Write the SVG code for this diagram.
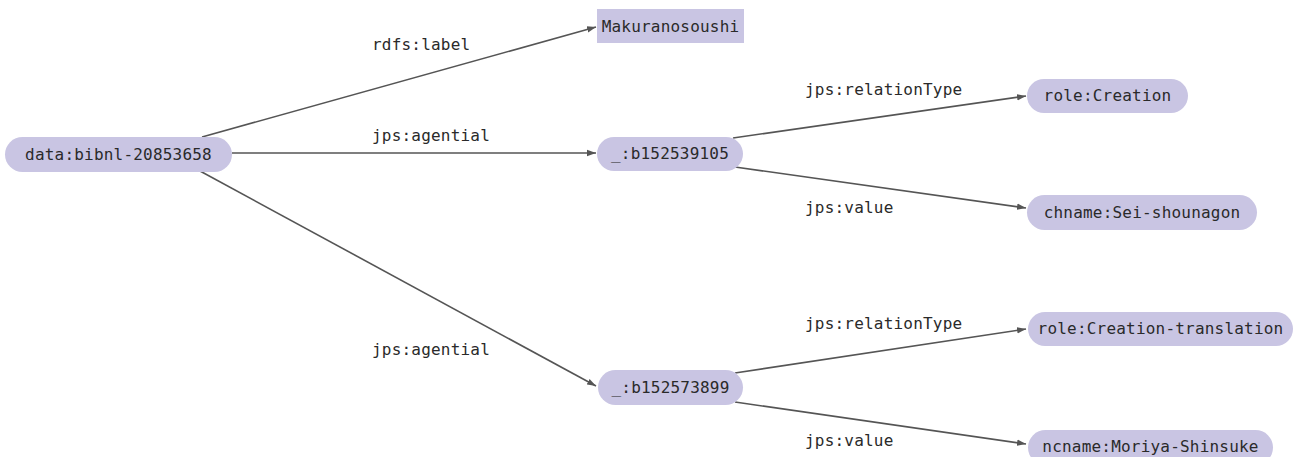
<svg xmlns="http://www.w3.org/2000/svg" width="1294" height="457" viewBox="0 0 1294 457">
  <style>
    .node { fill: #c9c5e3; }
    .txt { font-family: "DejaVu Sans Mono", "Liberation Mono", monospace; font-size: 16px; letter-spacing: 0.2px; fill: #2a2a2a; }
    .lbl { font-family: "DejaVu Sans Mono", "Liberation Mono", monospace; font-size: 16px; letter-spacing: 0.2px; fill: #2a2a2a; }
    .edge { stroke: #555555; stroke-width: 1.6; fill: none; marker-end: url(#arrow); }
  </style>
  <defs>
    <marker id="arrow" markerUnits="userSpaceOnUse" markerWidth="10" markerHeight="8" refX="9" refY="4" orient="auto">
      <path d="M0,0.8 L9,4 L0,7.2 Z" fill="#555555"/>
    </marker>
  </defs>

  <rect width="1294" height="457" fill="#ffffff"/>

  <!-- connectors -->
  <g id="edges">
    <line class="edge" x1="202" y1="137" x2="596" y2="27"/>
    <line class="edge" x1="232" y1="153" x2="596" y2="153"/>
    <line class="edge" x1="200" y1="171" x2="596" y2="386"/>
    <line class="edge" x1="733" y1="138" x2="1026" y2="96"/>
    <line class="edge" x1="735" y1="167" x2="1026" y2="208"/>
    <line class="edge" x1="735" y1="373" x2="1026" y2="329"/>
    <line class="edge" x1="735" y1="402" x2="1026" y2="444"/>
    <text class="lbl" x="372" y="50">rdfs:label</text>
    <text class="lbl" x="372" y="141">jps:agential</text>
    <text class="lbl" x="372" y="355">jps:agential</text>
    <text class="lbl" x="805" y="95">jps:relationType</text>
    <text class="lbl" x="805" y="213">jps:value</text>
    <text class="lbl" x="805" y="329">jps:relationType</text>
    <text class="lbl" x="805" y="446">jps:value</text>
  </g>

  <!-- nodes -->
  <g id="n-data">
    <rect class="node" x="5" y="137" width="227" height="35" rx="17.5"/>
    <text class="txt" x="118.5" y="160" text-anchor="middle">data:bibnl-20853658</text>
  </g>
  <g id="n-label">
    <rect class="node" x="597" y="9" width="147" height="34"/>
    <text class="txt" x="670.5" y="32" text-anchor="middle">Makuranosoushi</text>
  </g>
  <g id="n-b1">
    <rect class="node" x="597" y="137" width="146" height="34" rx="17"/>
    <text class="txt" x="670" y="159" text-anchor="middle">_:b152539105</text>
  </g>
  <g id="n-b2">
    <rect class="node" x="598" y="370" width="145" height="35" rx="17.5"/>
    <text class="txt" x="670.5" y="393" text-anchor="middle">_:b152573899</text>
  </g>
  <g id="n-role1">
    <rect class="node" x="1027" y="79" width="161" height="34" rx="17"/>
    <text class="txt" x="1107.5" y="101" text-anchor="middle">role:Creation</text>
  </g>
  <g id="n-chname">
    <rect class="node" x="1027" y="195" width="230" height="35" rx="17.5"/>
    <text class="txt" x="1142" y="218" text-anchor="middle">chname:Sei-shounagon</text>
  </g>
  <g id="n-role2">
    <rect class="node" x="1028" y="312" width="265" height="34" rx="17"/>
    <text class="txt" x="1160.5" y="334" text-anchor="middle">role:Creation-translation</text>
  </g>
  <g id="n-ncname">
    <rect class="node" x="1028" y="430" width="245" height="35" rx="17.5"/>
    <text class="txt" x="1150.5" y="452" text-anchor="middle">ncname:Moriya-Shinsuke</text>
  </g>
</svg>
